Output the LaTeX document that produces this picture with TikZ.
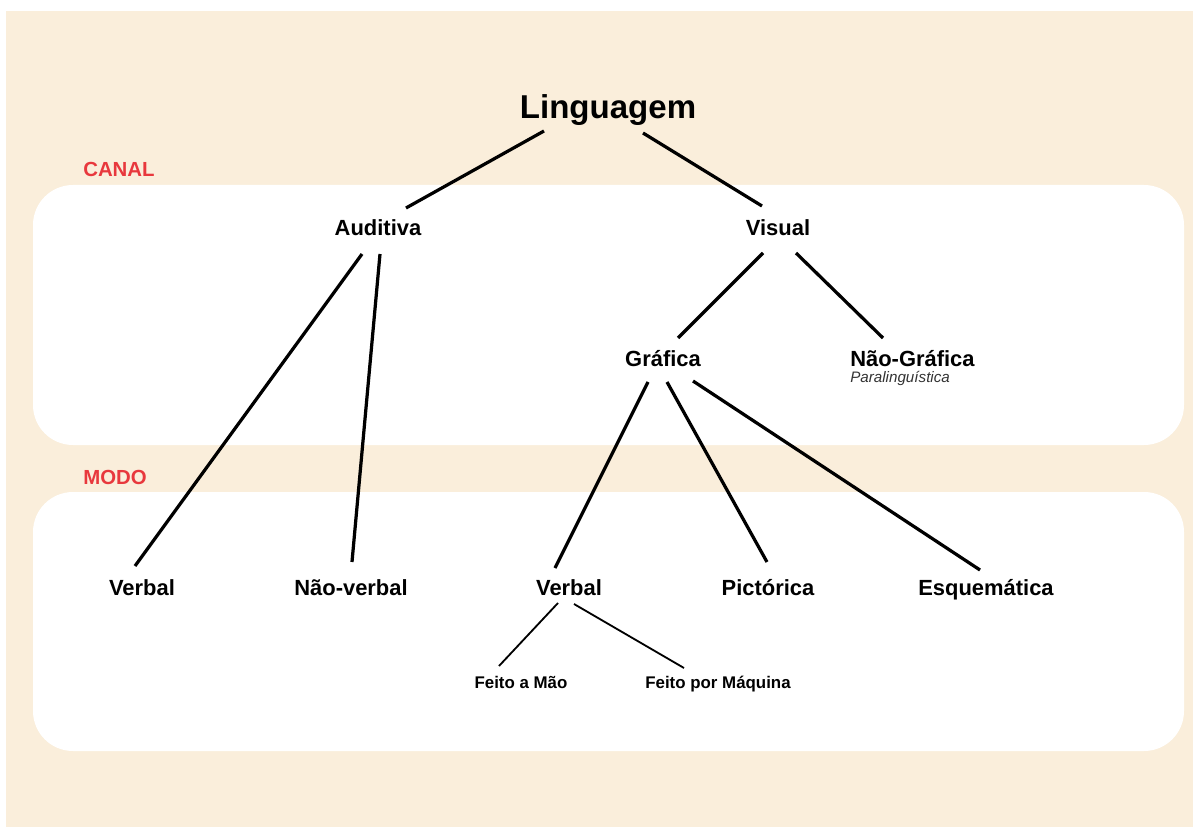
\documentclass[tikz,border=0pt]{standalone}
\usepackage{fontspec}
\setmainfont{Liberation Sans}
\definecolor{creme}{HTML}{FAEEDB}
\definecolor{tagred}{HTML}{E8383D}
\tikzset{
  big/.style={font=\fontsize{23.5}{26}\selectfont\bfseries, inner sep=0pt, anchor=base},
  term/.style={font=\fontsize{15.6}{18}\selectfont\bfseries, inner sep=0pt, anchor=base},
  small/.style={font=\fontsize{12}{14}\selectfont\bfseries, inner sep=0pt, anchor=base},
  tag/.style={font=\fontsize{14.5}{17}\selectfont\bfseries, text=tagred, anchor=base west, inner sep=0pt},
  link/.style={line width=2.3pt},
  thinlink/.style={line width=1.3pt}
}
\begin{document}
\begin{tikzpicture}[x=0.025cm, y=-0.025cm]
  \useasboundingbox (0,0) rectangle (1198,827);
  \fill[white] (0,0) rectangle (1198,827);
  \fill[creme] (6,11) rectangle (1193,827);
  \fill[white, rounded corners=1cm] (33,185) rectangle (1184,445);
  \fill[white, rounded corners=1cm] (33,492) rectangle (1184,751);

  \node[tag] (canal) at (83,177) {CANAL};
  \node[tag] (modo) at (83,484) {MODO};

  \node[big] (ling) at (608,119) {Linguagem};
  \node[term] (aud) at (378,236) {Auditiva};
  \node[term] (vis) at (778,236) {Visual};
  \node[term] (graf) at (663,366) {Gráfica};
  \node[term, anchor=base west] (naog) at (850,366) {Não-Gráfica};
  \node[anchor=base west, inner sep=0pt, text=black!80, font=\fontsize{10.8}{12}\selectfont\itshape] (para) at (850,382) {Paralinguística};
  \node[term] (verbA) at (142,595) {Verbal};
  \node[term] (naov) at (351,595) {Não-verbal};
  \node[term] (verbB) at (569,595) {Verbal};
  \node[term] (pict) at (768,595) {Pictórica};
  \node[term] (esq) at (986,595) {Esquemática};
  \node[small] (mao) at (521,688) {Feito a Mão};
  \node[small] (maq) at (718,688) {Feito por Máquina};

  \draw[link] ([shift={(-64,12)}]ling.base) -- ([shift={(28,-28)}]aud.base);
  \draw[link] ([shift={(35,14)}]ling.base) -- ([shift={(-16,-30)}]vis.base);
  \draw[link] ([shift={(-16,18)}]aud.base) -- ([shift={(-7,-29)}]verbA.base);
  \draw[link] ([shift={(2,18)}]aud.base) -- ([shift={(1,-33)}]naov.base);
  \draw[link] ([shift={(-15,17)}]vis.base) -- ([shift={(15,-28)}]graf.base);
  \draw[link] ([shift={(18,17)}]vis.base) -- ([shift={(33,-28)}]naog.base west);
  \draw[link] ([shift={(-15,16)}]graf.base) -- ([shift={(-14,-27)}]verbB.base);
  \draw[link] ([shift={(4,16)}]graf.base) -- ([shift={(-1,-33)}]pict.base);
  \draw[link] ([shift={(30,15)}]graf.base) -- ([shift={(-6,-25)}]esq.base);
  \draw[thinlink] ([shift={(-11,8)}]verbB.base) -- ([shift={(-22,-22)}]mao.base);
  \draw[thinlink] ([shift={(5,9)}]verbB.base) -- ([shift={(-34,-20)}]maq.base);
\end{tikzpicture}
\end{document}
